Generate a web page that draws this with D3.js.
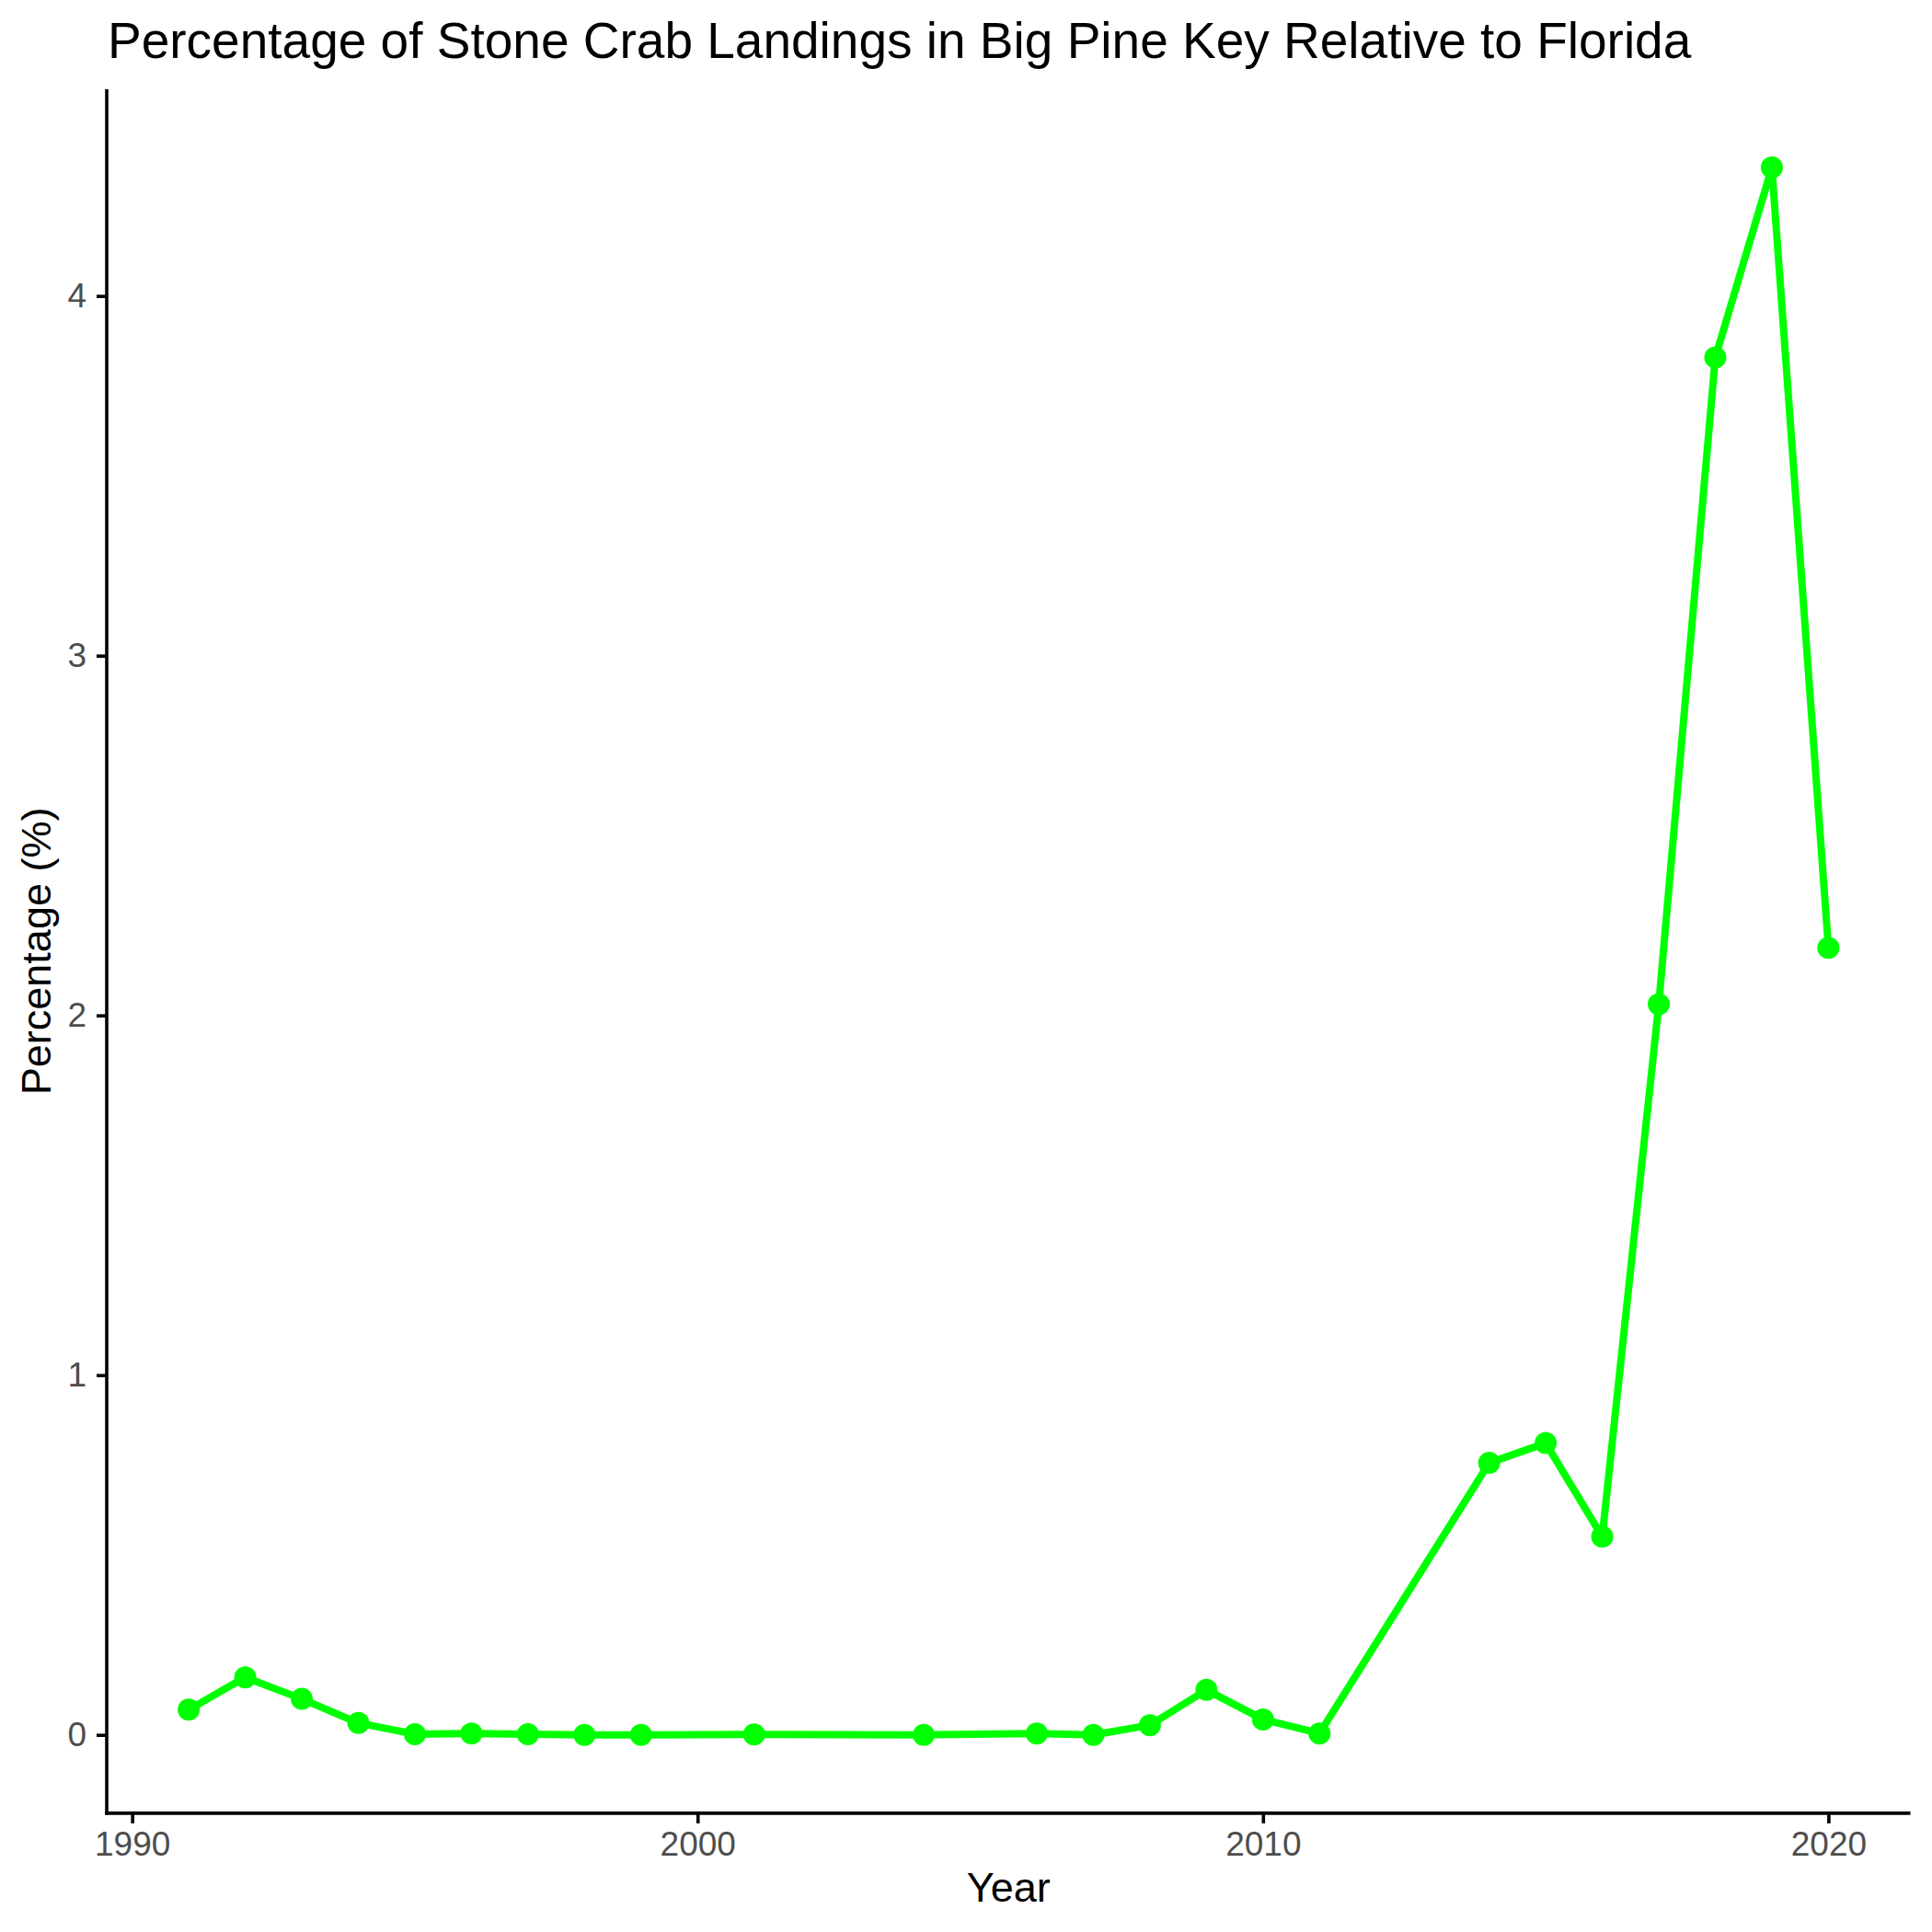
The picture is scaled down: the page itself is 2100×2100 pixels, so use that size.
<!DOCTYPE html>
<html>
<head>
<meta charset="utf-8">
<script src="https://cdn.jsdelivr.net/npm/d3@7"></script>
<style>
  html, body { margin: 0; padding: 0; background: #ffffff; }
  svg { display: block; }
</style>
</head>
<body>
<svg id="chart" width="2100" height="2100"></svg>
<script>
const years = [1991, 1992, 1993, 1994, 1995, 1996, 1997, 1998, 1999, 2001, 2004, 2006, 2007, 2008, 2009, 2010, 2011, 2014, 2015, 2016, 2017, 2018, 2019, 2020];
const percentages = [0.070, 0.160, 0.100, 0.033, 0.002, 0.004, 0.002, 0.000, 0.000, 0.001, 0.000, 0.004, 0.000, 0.027, 0.125, 0.043, 0.004, 0.756, 0.811, 0.551, 2.031, 3.829, 4.357, 2.188];
const xTicks = [1990, 2000, 2010, 2020];
const yTicks = [0, 1, 2, 3, 4];
const titleText = "Percentage of Stone Crab Landings in Big Pine Key Relative to Florida";
const xLabel = "Year";
const yLabel = "Percentage (%)";

(function () {
const data = years.map((yr, i) => ({ year: yr, value: percentages[i] }));

const svg = d3.select("#chart");
const pLeft = 116, pRight = 2076.5, pTop = 96.9, pBottom = 1970.9;
const font = "'Liberation Sans', Arial, sans-serif";

const xExt = d3.extent(years);
const xPad = (xExt[1] - xExt[0]) * 0.05;
const x = d3.scaleLinear().domain([xExt[0] - xPad, xExt[1] + xPad]).range([pLeft, pRight]);

const yExt = [Math.min(0, d3.min(percentages)), d3.max(percentages)];
const yPad = (yExt[1] - yExt[0]) * 0.05;
const y = d3.scaleLinear().domain([yExt[0] - yPad, yExt[1] + yPad]).range([pBottom, pTop]);

const xAxis = svg.append("g").attr("transform", `translate(0,${pBottom})`)
  .call(d3.axisBottom(x).tickValues(xTicks).tickFormat(d3.format("d")).tickSize(11).tickPadding(9));
const yAxis = svg.append("g").attr("transform", `translate(${pLeft},0)`)
  .call(d3.axisLeft(y).tickValues(yTicks).tickFormat(d3.format("d")).tickSize(11).tickPadding(11));

[xAxis, yAxis].forEach(a => {
  a.select(".domain").attr("stroke", "#000").attr("stroke-width", 3.6);
  a.selectAll(".tick line").attr("stroke", "#000").attr("stroke-width", 3.6);
  a.selectAll(".tick text").attr("fill", "#4d4d4d").attr("font-family", font).attr("font-size", 37);
});
xAxis.select(".domain").attr("d", `M${pLeft - 1.8},0H${pRight}`);
yAxis.select(".domain").attr("d", `M0,${pBottom + 1.8}V${pTop}`);

const line = d3.line().x(d => x(d.year)).y(d => y(d.value));
svg.append("path").datum(data)
  .attr("d", line)
  .attr("fill", "none")
  .attr("stroke", "#00ff00")
  .attr("stroke-width", 8)
  .attr("stroke-linejoin", "round");

svg.append("g").selectAll("circle").data(data).join("circle")
  .attr("cx", d => x(d.year))
  .attr("cy", d => y(d.value))
  .attr("r", 12)
  .attr("fill", "#00ff00");

svg.append("text")
  .attr("x", 117).attr("y", 63)
  .attr("font-family", font).attr("font-size", 55)
  .attr("fill", "#000")
  .text(titleText);

svg.append("text")
  .attr("x", (pLeft + pRight) / 2).attr("y", 2067)
  .attr("text-anchor", "middle")
  .attr("font-family", font).attr("font-size", 45)
  .attr("fill", "#000")
  .text(xLabel);

svg.append("text")
  .attr("transform", `translate(55,${(pTop + pBottom) / 2}) rotate(-90)`)
  .attr("text-anchor", "middle")
  .attr("font-family", font).attr("font-size", 45)
  .attr("fill", "#000")
  .text(yLabel);
})();
</script>
</body>
</html>
